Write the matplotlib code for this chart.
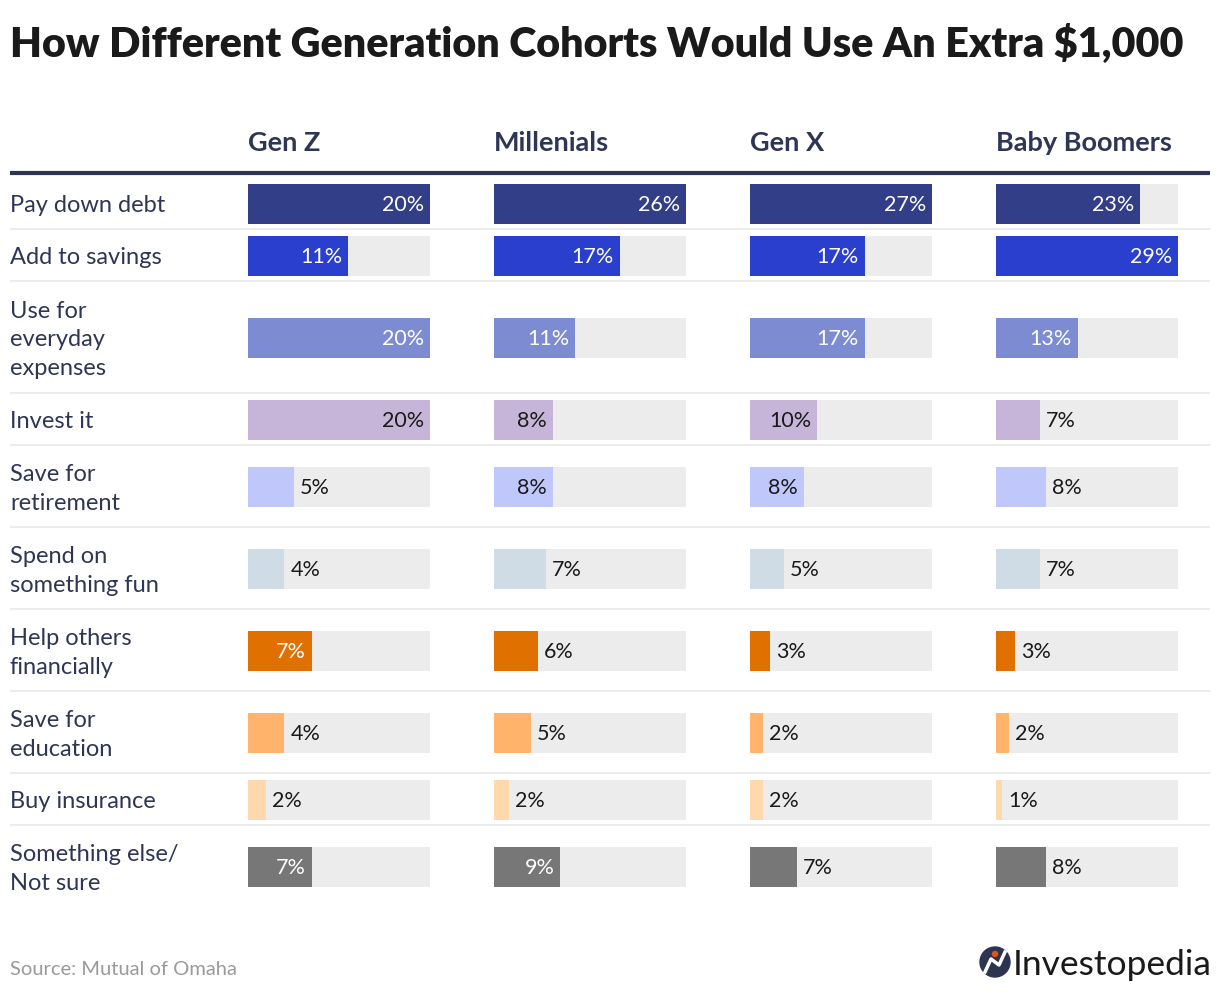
import matplotlib
matplotlib.use('Agg')
import matplotlib.pyplot as plt
import matplotlib.transforms as mtransforms
from matplotlib.patches import Circle

plt.rcParams['font.family'] = ['Lato', 'DejaVu Sans']

# Data
categories = ['Pay down debt', 'Add to savings', 'Use for\neveryday\nexpenses', 'Invest it',
              'Save for\nretirement', 'Spend on\nsomething fun', 'Help others\nfinancially',
              'Save for\neducation', 'Buy insurance', 'Something else/\nNot sure']
generations = ['Gen Z', 'Millenials', 'Gen X', 'Baby Boomers']
gen_z = [20, 11, 20, 20, 5, 4, 7, 4, 2, 7]
millenials = [26, 17, 11, 8, 8, 7, 6, 5, 2, 9]
gen_x = [27, 17, 17, 10, 8, 5, 3, 2, 2, 7]
boomers = [23, 29, 13, 7, 8, 7, 3, 2, 1, 8]
series = [gen_z, millenials, gen_x, boomers]

# Styling
row_colors = ['#323e87', '#2b3fcf', '#7d8bd2', '#c6b5d8', '#c0c8fb',
              '#cfdbe5', '#e07000', '#ffb36b', '#ffd8ad', '#777777']
inside_text = ['white', 'white', 'white', '#1a1a1a', '#1a1a1a',
               '#1a1a1a', 'white', '#1a1a1a', '#1a1a1a', 'white']
navy = '#2f3655'
track = '#ececec'

W, H = 1220, 992
fig = plt.figure(figsize=(W / 100, H / 100), dpi=100)
ax0 = fig.add_axes([0, 0, 1, 1])
ax0.set_xlim(0, W)
ax0.set_ylim(H, 0)
ax0.axis('off')

# row layout: 22px padding + 30px per text line
top = 177
bounds = [top]
for c in categories:
    bounds.append(bounds[-1] + 22 + 30 * (c.count('\n') + 1))
centers = [(a + b) / 2 + 1 for a, b in zip(bounds[:-1], bounds[1:])]

ax0.text(10, 57, 'How Different Generation Cohorts Would Use An Extra $1,000',
         fontsize=29.7, fontweight='heavy', color='#1a1a1a', va='baseline')
ax0.plot([10, 1210], [173, 173], color=navy, lw=3, solid_capstyle='butt')
for b in bounds[1:-1]:
    ax0.plot([10, 1210], [b, b], color=track, lw=1.5, solid_capstyle='butt')

for c, yc in zip(categories, centers):
    ax0.text(10, yc + 2, c, fontsize=17, color=navy, va='center', ha='left', linespacing=1.47)

col_x = [248, 494, 750, 996]
col_w = [182, 192, 182, 182]

for gen, vals, x0, w in zip(generations, series, col_x, col_w):
    ax0.text(x0, 151, gen, fontsize=19.5, fontweight='bold', color=navy, va='baseline')
    vmax = max(vals)
    ax = fig.add_axes([x0 / W, 1 - bounds[-1] / H, w / W, (bounds[-1] - top) / H])
    ax.set_xlim(0, vmax)
    ax.set_ylim(bounds[-1], top)
    ax.axis('off')
    ax.barh(centers, [vmax] * len(vals), height=40, color=track)
    ax.barh(centers, vals, height=40, color=row_colors)
    for i, v in enumerate(vals):
        if v / vmax > 0.285:
            off = mtransforms.offset_copy(ax.transData, fig=fig, x=-6, y=0, units='dots')
            ax.text(v, centers[i] + 1, f'{v}%', transform=off, ha='right', va='center',
                    fontsize=15.5, color=inside_text[i])
        else:
            off = mtransforms.offset_copy(ax.transData, fig=fig, x=6, y=0, units='dots')
            ax.text(v, centers[i] + 1, f'{v}%', transform=off, ha='left', va='center',
                    fontsize=15.5, color='#1a1a1a')

ax0.text(10, 975, 'Source: Mutual of Omaha', fontsize=14.5, color='#9a9a9a', va='baseline')

# logo
ax0.add_patch(Circle((995, 962), 15, color='#2c3452'))
ax0.plot([985, 991, 999, 1005], [972, 959, 965, 952], color='white', lw=2.5)
ax0.add_patch(Circle((995, 954), 2.5, color='#e8501e'))
ax0.text(1013, 975, 'Investopedia', fontsize=25.5, color='#1a1a1a', va='baseline')

fig.savefig('out.png', dpi=100)
